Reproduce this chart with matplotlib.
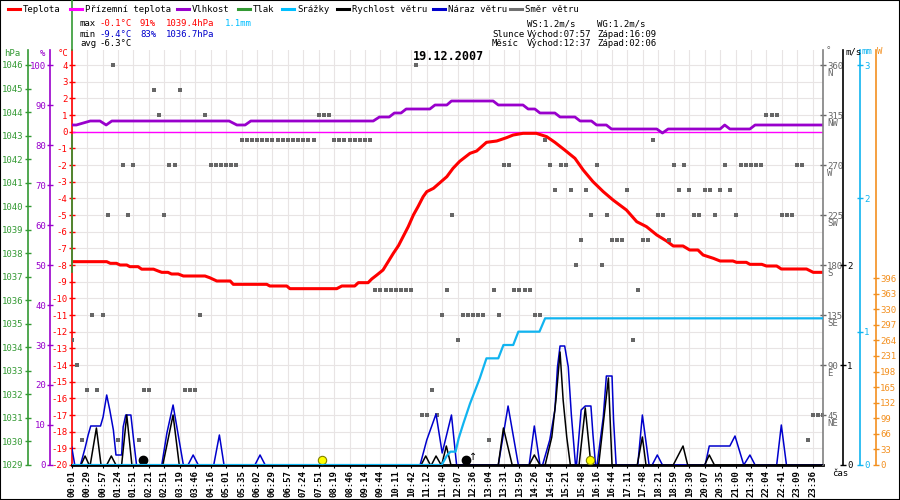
import matplotlib
matplotlib.use("Agg")
import matplotlib.pyplot as plt
import matplotlib.transforms as mtransforms
from matplotlib.lines import Line2D
from matplotlib.patches import Rectangle

plt.rcParams["font.family"] = ["DejaVu Sans Mono", "DejaVu Sans"]
plt.rcParams["axes.unicode_minus"] = False

# x axis is the record number (3 records per labelled tick)
TIME_LABELS = [
    "00:01", "00:29", "00:57", "01:24", "01:51", "02:21", "02:51", "03:19", "03:46", "04:16",
    "05:01", "05:35", "06:02", "06:29", "06:57", "07:24", "07:51", "08:19", "08:46", "09:14",
    "09:44", "10:11", "10:42", "11:12", "11:40", "12:07", "12:36", "13:04", "13:31", "13:59",
    "14:26", "14:54", "15:21", "15:48", "16:16", "16:44", "17:11", "17:48", "18:21", "18:59",
    "19:30", "20:07", "20:35", "21:00", "21:34", "22:04", "22:41", "23:09", "23:36",
]

# temperature (°C)
TEMP_T = [0, 6.8, 7.5, 8.7, 9.4, 10.7, 11.3, 12.9, 13.6, 15.9,
          16.8, 17.5, 18.7, 19.4, 20.7, 21.7, 25.9, 26.8, 28.2, 30.8,
          31.4, 37.9, 38.5, 41.8, 42.4, 51.5, 52.5, 55.0, 55.7, 57.6,
          58.3, 59.3, 60.5, 61.5, 62.5, 63.5, 64.4, 65.4, 66.4, 67.3,
          68.3, 69.0, 70.3, 71.6, 72.9, 74.1, 75.4, 77.4, 78.7, 80.6,
          82.6, 84.5, 85.8, 87.7, 90.3, 92.3, 93.9, 95.8, 97.8, 99.4,
          101.3, 103.3, 105.2, 107.8, 109.8, 111.7, 113.7, 115.6, 116.9, 118.8,
          120.1, 121.7, 122.7, 124.7, 126.0, 128.5, 129.2, 131.1, 131.8, 134.1,
          135.0, 137.0, 137.9, 142.8, 144.1, 146.0]
TEMP = [-7.8, -7.8, -7.9, -7.9, -8.0, -8.0, -8.1, -8.1, -8.25, -8.25,
        -8.36, -8.44, -8.44, -8.54, -8.54, -8.66, -8.66, -8.76, -8.96, -8.96,
        -9.16, -9.16, -9.26, -9.26, -9.42, -9.42, -9.26, -9.26, -9.06, -9.06,
        -8.84, -8.6, -8.3, -7.8, -7.3, -6.84, -6.3, -5.7, -5.0, -4.5,
        -3.9, -3.6, -3.4, -3.05, -2.7, -2.2, -1.78, -1.3, -1.16, -0.64,
        -0.56, -0.36, -0.2, -0.1, -0.1, -0.3, -0.64, -1.1, -1.6, -2.3,
        -3.0, -3.6, -4.1, -4.7, -5.4, -5.7, -6.2, -6.56, -6.86, -6.86,
        -7.1, -7.1, -7.4, -7.6, -7.76, -7.76, -7.84, -7.84, -7.96, -7.96,
        -8.06, -8.06, -8.24, -8.24, -8.44, -8.44]

# ground temperature (°C)
GROUND_T = [0, 146]
GROUND = [0, 0]

# humidity (%)
HUM_T = [0, 0.9, 3.6, 5.5, 6.7, 7.8, 30.6, 32.1, 33.7, 34.8,
         58.6, 59.8, 61.7, 62.7, 64.0, 65.0, 69.6, 70.6, 72.9, 73.8,
         81.9, 82.9, 87.7, 88.7, 90.0, 91.0, 93.9, 94.9, 97.8, 98.8,
         101.0, 102.0, 103.9, 104.9, 113.7, 114.8, 115.9, 126.0, 126.9, 127.9,
         131.8, 132.8, 146.0]
HUM = [85, 85, 86, 86, 85, 86, 86, 85, 85, 86,
       86, 87, 87, 88, 88, 89, 89, 90, 90, 91,
       91, 90, 90, 89, 89, 88, 88, 87, 87, 86,
       86, 85, 85, 84, 84, 83, 84, 84, 85, 84,
       84, 85, 85]

# cumulative rain (mm)
RAIN_T = [0, 71.9, 72.9, 73.6, 74.6, 75.2, 76.1, 77.4, 79.3, 80.6,
          82.9, 83.9, 85.8, 86.8, 90.9, 92.0, 146.0]
RAIN = [0, 0, 0.07, 0.1, 0.1, 0.2, 0.31, 0.46, 0.65, 0.8,
        0.8, 0.9, 0.9, 1.0, 1.0, 1.1, 1.1]

# wind gust (m/s)
GUST_T = [0, 0.6, 1.7, 2.6, 3.2, 3.7, 5.6, 6.1, 6.8, 7.4,
          8.1, 8.6, 9.7, 10.0, 10.5, 11.5, 12.1, 12.6, 17.5, 18.5,
          19.7, 20.7, 21.7, 22.6, 23.6, 24.6, 27.6, 28.7, 29.6, 35.6,
          36.6, 37.6, 67.7, 69.0, 70.8, 72.0, 73.8, 74.8, 82.9, 84.8,
          86.8, 88.9, 89.9, 91.0, 91.5, 92.9, 93.9, 94.4, 94.9, 95.8,
          96.5, 97.1, 97.9, 98.1, 99.0, 99.8, 100.9, 101.3, 101.8, 102.1,
          103.3, 103.9, 105.0, 105.3, 105.8, 110.0, 110.9, 112.2, 112.8, 113.8,
          114.8, 123.1, 123.9, 127.9, 128.9, 130.6, 131.8, 132.8, 137.0, 137.9,
          138.9, 146.0]
GUST = [0.18, 0, 0, 0.17, 0.3, 0.39, 0.39, 0.48, 0.7, 0.55,
        0.35, 0.1, 0.1, 0.38, 0.5, 0.5, 0.22, 0, 0, 0.32,
        0.6, 0.3, 0, 0, 0.1, 0, 0, 0.3, 0, 0,
        0.1, 0, 0, 0.25, 0.51, 0.12, 0.5, 0, 0, 0.59,
        0, 0, 0.39, 0, 0, 0.25, 0.55, 0.98, 1.19, 1.19,
        0.98, 0.5, 0, 0, 0.55, 0.59, 0.59, 0.3, 0, 0,
        0.48, 0.89, 0.89, 0.45, 0, 0, 0.5, 0, 0, 0.1,
        0, 0, 0.19, 0.19, 0.29, 0, 0.1, 0, 0, 0.4,
        0, 0]

# wind speed (m/s)
SPEED_T = [0, 1.8, 2.6, 3.4, 3.6, 4.8, 5.7, 6.8, 7.7, 8.6,
           9.7, 10.7, 11.7, 17.7, 19.7, 20.9, 67.9, 68.8, 69.7, 69.9,
           70.8, 71.8, 71.9, 72.8, 73.7, 82.9, 83.9, 85.6, 88.9, 89.9,
           91.0, 92.0, 93.3, 94.1, 94.9, 95.5, 96.2, 96.9, 98.6, 99.8,
           100.9, 102.4, 104.3, 105.0, 109.9, 110.9, 111.6, 116.9, 118.8, 119.7,
           123.0, 123.9, 124.9, 146.0]
SPEED = [0, 0, 0.09, 0, 0, 0.37, 0, 0, 0.09, 0,
         0, 0.5, 0, 0, 0.5, 0, 0, 0.09, 0, 0,
         0.09, 0, 0, 0.19, 0, 0, 0.37, 0, 0, 0.1,
         0, 0, 0.28, 0.65, 1.13, 0.65, 0.28, 0, 0, 0.57,
         0, 0, 0.87, 0, 0, 0.28, 0, 0, 0.19, 0,
         0, 0.1, 0, 0]

# wind direction (°), one value per record 0..146
DIRECTION = [
    112.5, 90, 22.5, 67.5, 135, 67.5, 135, 225, 360, 22.5,
    270, 225, 270, 22.5, 67.5, 67.5, 337.5, 315, 225, 270,
    270, 337.5, 67.5, 67.5, 67.5, 135, 315, 270, 270, 270,
    270, 270, 270, 292.5, 292.5, 292.5, 292.5, 292.5, 292.5, 292.5,
    292.5, 292.5, 292.5, 292.5, 292.5, 292.5, 292.5, 292.5, 315, 315,
    315, 292.5, 292.5, 292.5, 292.5, 292.5, 292.5, 292.5, 292.5, 157.5,
    157.5, 157.5, 157.5, 157.5, 157.5, 157.5, 157.5, 360, 45, 45,
    67.5, 45, 135, 157.5, 225, 112.5, 135, 135, 135, 135,
    135, 22.5, 157.5, 135, 270, 270, 157.5, 157.5, 157.5, 157.5,
    135, 135, 292.5, 270, 247.5, 270, 270, 247.5, 180, 202.5,
    247.5, 225, 270, 180, 225, 202.5, 202.5, 202.5, 247.5, 112.5,
    157.5, 202.5, 202.5, 292.5, 225, 225, 202.5, 270, 247.5, 270,
    247.5, 225, 225, 247.5, 247.5, 225, 247.5, 270, 247.5, 225,
    270, 270, 270, 270, 270, 315, 315, 315, 225, 225,
    225, 270, 270, 22.5, 45, 45, 45,
]

SUN_T = [48.7, 100.8]    # sunrise / sunset
MOON_T = [13.9, 76.7]    # moonset / moonrise

RED = "#ff0000"
MAGENTA = "#ff00ff"
PURPLE = "#9900cc"
GREEN = "#339933"
CYAN = "#10b4f0"
BLUE = "#0000cc"
GRAY = "#666666"
ORANGE = "#f39020"
GRID = "#e8e4e4"
FS = 6.5

W, H = 900, 500
L, R, T, B = 71.7, 823.0, 50.0, 465.0


def fx(px):
    return px / W


def fy(py):
    return 1 - py / H


def ftext(px, py, s, color="black", size=FS, **kw):
    kw.setdefault("ha", "left")
    kw.setdefault("va", "center")
    fig.text(fx(px), fy(py), s, color=color, fontsize=size, **kw)


fig = plt.figure(figsize=(9, 5), dpi=100)
ax = fig.add_axes([fx(L), fy(B), (R - L) / W, (B - T) / H])
ax.set_xlim(0, 146)
ax.set_ylim(-20, 4.9)
ax.set_yticks(range(-20, 5))
ax.set_xticks(range(0, 145, 3))
ax.set_xticklabels(TIME_LABELS, rotation=90, fontweight="bold")
ax.tick_params(axis="x", length=2, pad=2, labelsize=FS)
ax.tick_params(axis="y", colors=RED, labelsize=FS, direction="inout",
               length=4, width=1, pad=1)
ax.grid(True, color=GRID, lw=0.8)
ax.set_axisbelow(True)
for s in ("top", "right"):
    ax.spines[s].set_visible(False)
ax.spines["left"].set_color(RED)
ax.spines["left"].set_linewidth(1.2)
ax.spines["bottom"].set_color("black")
ax.spines["bottom"].set_linewidth(2)


def twin(side, pos_px, color, ylim, ticks, labels=None, tcolor=None):
    t = ax.twinx()
    for sp in t.spines.values():
        sp.set_visible(False)
    sp = t.spines[side]
    sp.set_visible(True)
    sp.set_position(("axes", (pos_px - L) / (R - L)))
    sp.set_color(color)
    sp.set_linewidth(1.2)
    t.yaxis.set_ticks_position(side)
    t.yaxis.set_label_position(side)
    t.set_ylim(*ylim)
    t.set_yticks(ticks)
    if labels is not None:
        t.set_yticklabels(labels)
    t.tick_params(axis="y", colors=tcolor or color, labelsize=FS,
                  direction="inout", length=4, width=1, pad=1)
    return t


ax_hpa = twin("left", 28, GREEN, (1029, 1029 + 17 * 415 / 400), range(1029, 1047))
ax_pct = twin("left", 50, PURPLE, (0, 100 * 415 / 400), range(0, 101, 10))
ax_deg = twin("right", R, "#808080", (0, 360 * 415 / 400),
              [45, 90, 135, 180, 225, 270, 315, 360], tcolor=GRAY)
ax_ms = twin("right", 843, "black", (0, 4 * 415 / 400), [0, 1, 2])
ax_mm = twin("right", 860, CYAN, (0, 3 * 415 / 400), [0, 1, 2, 3])
ax_w = twin("right", 876, ORANGE, (0, 396 * 415 / 187), range(0, 397, 33))

# compass letters under the direction ticks
blend = mtransforms.blended_transform_factory(ax_deg.transAxes, ax_deg.transData)
for deg, name in zip([360, 315, 270, 225, 180, 135, 90, 45],
                     ["N", "NW", "W", "SW", "S", "SE", "E", "NE"]):
    ax_deg.text(1 + 4 / (R - L), deg - 8, name, transform=blend, color=GRAY,
                fontsize=FS, ha="left", va="center")

# series
ax_deg.plot(range(len(DIRECTION)), DIRECTION, "s", ms=3.0, color=GRAY, mew=0)
ax.plot(GROUND_T, GROUND, color=MAGENTA, lw=1)
ax.plot(TEMP_T, TEMP, color=RED, lw=2.2, solid_capstyle="butt")
ax_pct.plot(HUM_T, HUM, color=PURPLE, lw=2.0)
ax_mm.plot(RAIN_T, RAIN, color=CYAN, lw=1.6)
ax_ms.plot(GUST_T, GUST, color=BLUE, lw=1.1)
ax_ms.plot(SPEED_T, SPEED, color="black", lw=1.1)
ax_ms.plot(MOON_T, [0.05] * len(MOON_T), "o", ms=6, mfc="black", mec="black")
ax_ms.plot(SUN_T, [0.05] * len(SUN_T), "o", ms=6, mfc="#ffff00", mec="#808000", mew=0.8)
ax_ms.text(77.9, 0.08, "↑", fontsize=7, ha="center", va="center", family="DejaVu Sans")

# pressure trace stuck on the left edge
fig.add_artist(Line2D([fx(71.5), fx(71.5)], [fy(0), fy(50)], transform=fig.transFigure,
                      color=GREEN, lw=1.2))
fig.add_artist(Line2D([fx(71.5), fx(71.5)], [fy(135), fy(272)], transform=fig.transFigure,
                      color=GREEN, lw=1.2))

# axis titles
ftext(20, 54, "hPa", GREEN, ha="right")
ftext(43, 54, "%", PURPLE, ha="center")
ftext(68, 54, "°C", RED, ha="right")
ftext(826, 51, "°", GRAY)
ftext(845, 52, "m/s", "black")
ftext(862, 52, "mm", CYAN)
ftext(877, 52, "W", ORANGE)
ftext(840, 474, "čas", "black", ha="center")

# legend
LEGEND = [("Teplota", RED, 8), ("Přízemní teplota", MAGENTA, 70), ("Vlhkost", PURPLE, 177),
          ("Tlak", GREEN, 238), ("Srážky", "#00bfff", 282), ("Rychlost větru", "black", 337),
          ("Náraz větru", BLUE, 433), ("Směr větru", "#707070", 510)]
for name, c, x0 in LEGEND:
    fig.add_artist(Line2D([fx(x0), fx(x0 + 12)], [fy(9), fy(9)], transform=fig.transFigure,
                          color=c, lw=2.2))
    ftext(x0 + 15, 9, name)

# statistics
ftext(80, 24, "max")
ftext(99, 24, "-0.1°C", RED)
ftext(140, 24, "91%", RED)
ftext(166, 24, "1039.4hPa", RED)
ftext(225, 24, "1.1mm", "#00bfff")
ftext(80, 34, "min")
ftext(99, 34, "-9.4°C", BLUE)
ftext(140, 34, "83%", BLUE)
ftext(166, 34, "1036.7hPa", BLUE)
ftext(80, 43, "avg")
ftext(99, 43, "-6.3°C")
ftext(527, 24, "WS:1.2m/s")
ftext(597, 24, "WG:1.2m/s")
ftext(492, 34, "Slunce")
ftext(527, 34, "Východ:07:57")
ftext(597, 34, "Západ:16:09")
ftext(492, 43, "Měsíc")
ftext(527, 43, "Východ:12:37")
ftext(597, 43, "Západ:02:06")

ftext(448, 57, "19.12.2007", size=8.5, fontweight="bold", ha="center")

fig.add_artist(Rectangle((0, 0), 1, 1, transform=fig.transFigure, fill=False,
                         edgecolor="black", lw=1.5))

fig.savefig("out.png", dpi=100)
